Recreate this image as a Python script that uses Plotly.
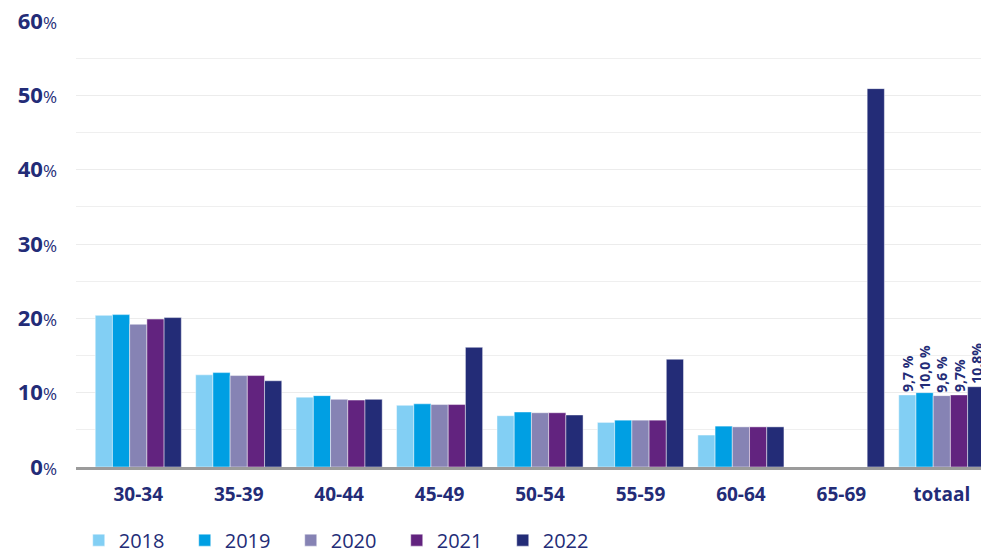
import plotly.graph_objects as go

categories = ["30-34", "35-39", "40-44", "45-49", "50-54", "55-59", "60-64", "65-69", "totaal"]
years = ["2018", "2019", "2020", "2021", "2022"]
v2018 = [20.4, 12.4, 9.4, 8.3, 6.9, 6.0, 4.3, None, 9.7]
v2019 = [20.5, 12.7, 9.6, 8.5, 7.4, 6.3, 5.5, None, 10.0]
v2020 = [19.2, 12.3, 9.1, 8.4, 7.3, 6.3, 5.4, None, 9.6]
v2021 = [19.9, 12.3, 9.0, 8.4, 7.3, 6.3, 5.4, None, 9.7]
v2022 = [20.1, 11.6, 9.1, 16.1, 7.0, 14.5, 5.4, 50.9, 10.8]
totaal_labels = ["9,7 %", "10,0 %", "9,6 %", "9,7%", "10,8%"]
colors = ["#82cff4", "#009fe3", "#8683b4", "#62237f", "#232c77"]
yticks = [0, 10, 20, 30, 40, 50, 60]

navy = "#232c77"
series = [v2018, v2019, v2020, v2021, v2022]

fig = go.Figure()
for i, (yr, vals) in enumerate(zip(years, series)):
    texts = [""] * (len(categories) - 1) + [totaal_labels[i]]
    fig.add_trace(go.Bar(
        x=categories, y=vals, name=yr,
        marker=dict(color=colors[i], line=dict(color="rgba(255,255,255,0.45)", width=1)),
        text=texts, textposition="outside", textangle=-90, constraintext="none",
        textfont=dict(family="Open Sans", size=14, color=navy, weight="bold"),
        cliponaxis=False,
    ))

fig.update_layout(
    barmode="group", bargap=0.143, bargroupgap=0,
    width=981, height=543,
    margin=dict(l=68, r=0, t=13, b=84, autoexpand=False),
    plot_bgcolor="white", paper_bgcolor="white",
    font=dict(family="Open Sans", color=navy),
    legend=dict(orientation="h", x=0.003, xanchor="left", y=-0.164, yanchor="middle",
                font=dict(size=20, color=navy, family="Open Sans"),
                entrywidth=61, entrywidthmode="pixels", itemwidth=30,
                traceorder="normal"),
    xaxis=dict(range=[-0.62, 8.47], showgrid=False, showline=True, linecolor="#9b9b9b", linewidth=3,
               tickfont=dict(size=19, color=navy, family="Open Sans", weight="bold"), ticks="",
               ticklabelstandoff=8, automargin=False, ticklabeloverflow="allow"),
    yaxis=dict(range=[0, 60], tickvals=yticks,
               ticktext=[f"<b>{t}</b><span style='font-size:17px'>%</span>" for t in yticks],
               tickfont=dict(size=22, color=navy, family="Open Sans"),
               showgrid=True, gridcolor="#ececec", gridwidth=1,
               minor=dict(dtick=5, showgrid=True, gridcolor="#efefef", gridwidth=1),
               zeroline=False, ticks="", ticklabelstandoff=18, automargin=False,
               ticklabeloverflow="allow"),
)

fig.write_html("out.html")
